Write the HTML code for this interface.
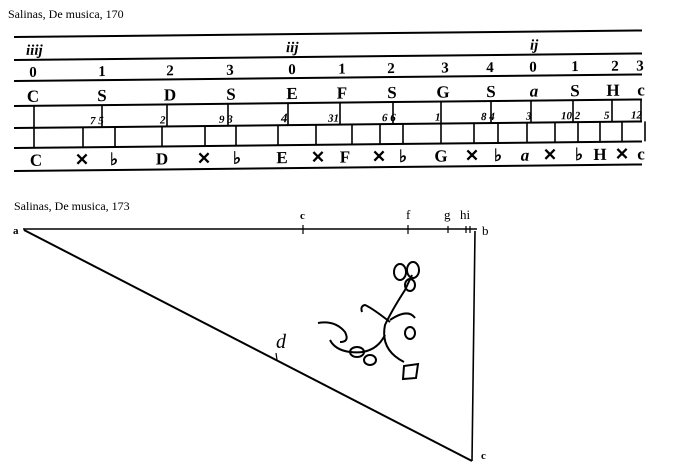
<!DOCTYPE html>
<html><head><meta charset="utf-8"><style>
html,body{margin:0;padding:0;background:#fff;}
svg{display:block}
text{font-family:"Liberation Serif",serif;fill:#000}
.s{font-family:"Liberation Serif",serif;font-size:12px}
.b{font-weight:bold;font-size:17px}
.n{font-weight:bold;font-size:15px}
.m{font-size:11px;font-style:italic;font-weight:bold}
</style></head><body>
<svg width="680" height="468" viewBox="0 0 680 468" xmlns="http://www.w3.org/2000/svg">
<text x="8" y="18" class="s">Salinas, De musica, 170</text>
<g transform="translate(16,0) skewY(-0.6) translate(-16,0)" stroke="#000">
 <g stroke-width="2">
  <line x1="14" y1="37" x2="642" y2="37"/>
  <line x1="14" y1="60" x2="642" y2="60"/>
  <line x1="14" y1="81" x2="642" y2="81"/>
  <line x1="14" y1="106" x2="642" y2="106"/>
  <line x1="14" y1="128" x2="642" y2="128"/>
  <line x1="14" y1="148" x2="642" y2="148"/>
  <line x1="14" y1="171" x2="642" y2="171"/>
 </g>
 <g stroke-width="1.6">
  <line x1="34" y1="106" x2="34" y2="148"/>
  <line x1="102" y1="106" x2="102" y2="128"/>
  <line x1="167" y1="106" x2="167" y2="128"/>
  <line x1="228" y1="106" x2="228" y2="128"/>
  <line x1="288" y1="106" x2="288" y2="128"/>
  <line x1="340" y1="106" x2="340" y2="128"/>
  <line x1="393" y1="106" x2="393" y2="128"/>
  <line x1="441" y1="106" x2="441" y2="148"/>
  <line x1="491" y1="106" x2="491" y2="128"/>
  <line x1="531" y1="106" x2="531" y2="128"/>
  <line x1="573" y1="106" x2="573" y2="128"/>
  <line x1="612" y1="106" x2="612" y2="128"/>
  <line x1="641" y1="106" x2="641" y2="128"/>
  <line x1="83" y1="128" x2="83" y2="148"/>
  <line x1="115" y1="128" x2="115" y2="148"/>
  <line x1="162" y1="128" x2="162" y2="148"/>
  <line x1="205" y1="128" x2="205" y2="148"/>
  <line x1="236" y1="128" x2="236" y2="148"/>
  <line x1="278" y1="128" x2="278" y2="148"/>
  <line x1="316" y1="128" x2="316" y2="148"/>
  <line x1="352" y1="128" x2="352" y2="148"/>
  <line x1="380" y1="128" x2="380" y2="148"/>
  <line x1="403" y1="128" x2="403" y2="148"/>
  <line x1="474" y1="128" x2="474" y2="148"/>
  <line x1="498" y1="128" x2="498" y2="148"/>
  <line x1="527" y1="128" x2="527" y2="148"/>
  <line x1="555" y1="128" x2="555" y2="148"/>
  <line x1="578" y1="128" x2="578" y2="148"/>
  <line x1="600" y1="128" x2="600" y2="148"/>
  <line x1="622" y1="128" x2="622" y2="148"/>
  <line x1="645" y1="128" x2="645" y2="148"/>
 </g>
 <g stroke="none">
  <text x="26" y="55" class="n" font-size="14" font-style="italic">iiij</text>
  <text x="286" y="55" class="n" font-size="14" font-style="italic">iij</text>
  <text x="530" y="55" class="n" font-size="14" font-style="italic">ij</text>
  <g class="n" text-anchor="middle">
   <text x="33" y="77">0</text><text x="102" y="77">1</text><text x="170" y="77">2</text><text x="230" y="77">3</text>
   <text x="292" y="77">0</text><text x="342" y="77">1</text><text x="391" y="77">2</text><text x="445" y="77">3</text>
   <text x="490" y="77">4</text><text x="533" y="77">0</text><text x="575" y="77">1</text><text x="615" y="77">2</text><text x="640" y="77">3</text>
  </g>
  <g class="b" text-anchor="middle">
   <text x="33" y="102">C</text><text x="102" y="102">S</text><text x="170" y="102">D</text><text x="231" y="102">S</text>
   <text x="292" y="102">E</text><text x="342" y="102">F</text><text x="392" y="102">S</text><text x="443" y="102">G</text>
   <text x="491" y="102">S</text><text x="534" y="102" font-style="italic">a</text><text x="575" y="102">S</text><text x="613" y="102">H</text><text x="641" y="102">c</text>
  </g>
  <g class="m">
   <text x="90" y="125">7 5</text><text x="160" y="125">2</text><text x="219" y="125">9 3</text><text x="281" y="125" font-size="13">4</text>
   <text x="328" y="125">31</text><text x="382" y="125">6 6</text><text x="435" y="125">1</text><text x="481" y="125">8 4</text>
   <text x="526" y="125">3</text><text x="561" y="125">10 2</text><text x="604" y="125">5</text><text x="631" y="125">12</text>
  </g>
  <g class="b" text-anchor="middle">
   <text x="36" y="166">C</text><text x="82" y="166">✕</text><text x="114" y="166">♭</text><text x="162" y="166">D</text>
   <text x="204" y="166">✕</text><text x="237" y="166">♭</text><text x="282" y="166">E</text><text x="318" y="166">✕</text>
   <text x="345" y="166">F</text><text x="379" y="166">✕</text><text x="403" y="166">♭</text><text x="441" y="166">G</text>
   <text x="472" y="166">✕</text><text x="498" y="166">♭</text><text x="525" y="166" font-style="italic">a</text><text x="550" y="166">✕</text>
   <text x="579" y="166">♭</text><text x="600" y="166">H</text><text x="622" y="166">✕</text><text x="641" y="166">c</text>
  </g>
 </g>
</g>

<text x="14" y="210" class="s">Salinas, De musica, 173</text>
<g stroke="#000" fill="none">
 <line x1="23" y1="229" x2="477" y2="229" stroke-width="1.6"/>
 <line x1="24" y1="230" x2="472" y2="461" stroke-width="2"/>
 <line x1="475" y1="231" x2="472" y2="461" stroke-width="1.6"/>
 <g stroke-width="1.2">
  <line x1="303" y1="225" x2="303" y2="234"/>
  <line x1="408" y1="225" x2="408" y2="234"/>
  <line x1="448" y1="226" x2="448" y2="233"/>
  <line x1="466" y1="226" x2="466" y2="233"/>
  <line x1="470" y1="226" x2="470" y2="233"/>
  <line x1="276" y1="353" x2="277" y2="360"/>
 </g>
</g>
<g font-family="Liberation Serif,serif" font-size="13">
 <text x="13" y="234" font-weight="bold" font-size="11">a</text>
 <text x="300" y="219" font-size="11" font-weight="bold">c</text>
 <text x="406" y="219">f</text>
 <text x="444" y="219">g</text>
 <text x="460" y="219">hi</text>
 <text x="482" y="235">b</text>
 <text x="276" y="348" font-size="20" font-style="italic">d</text>
 <text x="481" y="459" font-size="11" font-weight="bold">c</text>
</g>
<g stroke="#000" stroke-width="2" fill="none">
 <path d="M404 362 Q380 350 385 325 Q392 310 405 290 L412 275"/>
 <path d="M385 335 Q375 355 350 352 Q335 350 330 340"/>
 <path d="M318 323 Q335 320 345 332 Q350 342 340 342"/>
 <path d="M390 322 Q372 308 365 305 Q360 306 362 312"/>
 <path d="M390 320 Q408 308 415 318"/>
 <ellipse cx="400" cy="272" rx="6" ry="8"/>
 <ellipse cx="413" cy="270" rx="6" ry="8"/>
 <ellipse cx="410" cy="285" rx="5" ry="6"/>
 <ellipse cx="357" cy="352" rx="7" ry="5"/>
 <ellipse cx="370" cy="360" rx="6" ry="5"/>
 <ellipse cx="410" cy="333" rx="5" ry="6"/>
 <path d="M404 366 L418 364 L416 378 L403 379 Z"/>
</g>
</svg>
</body></html>
